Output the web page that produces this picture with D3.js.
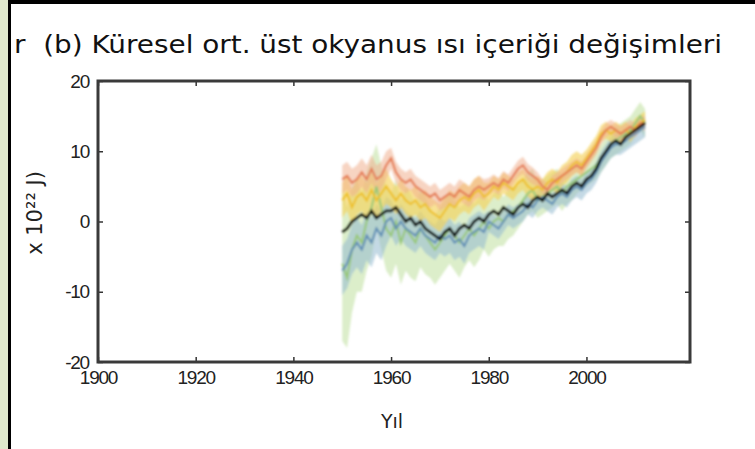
<!DOCTYPE html>
<html>
<head>
<meta charset="utf-8">
<script src="https://d3js.org/d3.v7.min.js"></script>
<style>
body { margin: 0; background: #fff; }
svg { display: block; font-family: 'DejaVu Sans', Verdana, sans-serif; }
.tick text { fill: #222; }
</style>
</head>
<body>
<div class="chart"></div>
<script>
// years 1950..2012, one value per year
const years = d3.range(1950, 2013);

// central (black) estimate
const blackMean = [-1.5,-1,0,0.5,1,0.5,1.5,0.5,1,1.5, 1.5,2,1,0,0.5,-0.5,0,-1,-1.5,-2,
  -2.5,-1.5,-1,-2,-1,-0.5,-1,0,0.5,0, 1,1.5,1,2,1.5,1,2,2.5,2,3,
  3.5,3,4,3.5,4,4.5,4,5,5.5,5, 6,6.5,7.5,9,10,11,11.5,11,12,12.5, 13,13.5,14];

const redMean = [6,6.5,5.5,6,7,6,7.5,6,6.5,8, 9,7,6,5.5,6,5,4.5,4,3.5,4,
  3,3.5,4,3.5,4.5,4,3.5,4.5,5,4.5, 5,5.5,5,6,5.5,6.5,7.5,8,7,6.5,
  6,5,4.5,5.5,6,6.5,7,7.5,8,7.5, 8.5,9.5,10.5,12,13,13.5,13,12.5,13,13.5, 13,14,14];
const redSpread = [2,2,2,2,2,2,2,2,2,2, 1.5,1.5,1.5,1.5,1.5,1.5,1.5,1.5,1.5,1.5,
  1.5,1.5,1.5,1.5,1.5,1.5,1.5,1.5,1.5,1.5, 1.2,1.2,1.2,1.2,1.2,1.2,1.2,1.2,1.2,1.2,
  1,1,1,1,1,1,1,1,1,1, 1,1,1,1,1,1,1,1,1,1, 1,1,1];

const yellowMean = [3,4,2,3.5,4,3,4.5,3,4,5, 4,3,4,3,2.5,3,2,2.5,1.5,1,
  0.5,1.5,2.5,2,3,3.5,3,4,4.5,3.5, 4,5,4.5,5.5,5,4.5,5.5,6,5,4.5,
  5,4.5,5.5,6,5.5,6.5,7,8,8.5,8, 9,10,11,12.5,13,12.5,13,12.5,13,12.5, 13.5,14,14.5];
const yellowSpread = [2.5,2.5,2.5,2.5,2.5,2.5,2.5,2.5,2.5,2.5, 2,2,2,2,2,2,2,2,2,2,
  2,2,2,2,2,2,2,2,2,2, 1.5,1.5,1.5,1.5,1.5,1.5,1.5,1.5,1.5,1.5,
  1.5,1.5,1.5,1.5,1.5,1.5,1.5,1.5,1.5,1.5, 1.2,1.2,1.2,1.2,1.2,1.2,1.2,1.2,1.2,1.2, 1.2,1.2,1.2];

const greenMean = [-6,-8,-4,-2,-3,0,2,5,2,-1, -2,0,-3,-1,-2,-3,-1,-2,-3,-4,
  -3,-2,-1,-2,-3,-2,-1,-2,-1,0, -1,0,0.5,0,1,1.5,2,3,4,4.5,
  3,3.5,4,4.5,5,4,5,5.5,6,6.5, 7,7.5,8,9,10,11,11.5,12,12.5,13, 14,15,14];
const greenSpread = [11,10,9,8,7,7,7,6,6,6, 6,6,6,6,6,5.5,5.5,5.5,5,5,
  5,5,5,5,5,4.5,4.5,4.5,4.5,4, 4,4,4,3.5,3.5,3.5,3,3,3,3,
  2.5,2.5,2.5,2.5,2.5,2.5,2.5,2.5,2,2, 2,2,2,2,2,2,2,2,2,2, 2,2,2];

const blueMean = [-7,-6,-4,-3,-4,-2,-3,-1,-2,0, 0.5,-1,0,-1,-1.5,-2,-1,-2,-2.5,-3,
  -2,-2.5,-2,-3,-2.5,-3.5,-2,-1.5,-1,-1.5, 0,-0.5,-1,0,1,0.5,1,1.5,2.5,2,
  3,3.5,3,2.5,3.5,4,3.5,4.5,5,4.5, 5.5,6,7,8.5,9.5,10.5,11,11,11.5,12, 12.5,13,13.5];
const blueSpread = [3.5,3.5,3.5,3.5,3.5,3.5,3.5,3.5,3.5,3.5, 2.5,2.5,2.5,2.5,2.5,2.5,2.5,2.5,2.5,2.5,
  2.5,2.5,2.5,2.5,2.5,2.5,2.5,2.5,2.5,2.5, 1.5,1.5,1.5,1.5,1.5,1.5,1.5,1.5,1.5,1.5,
  1.5,1.5,1.5,1.5,1.5,1.5,1.5,1.5,1.5,1.5, 1.5,1.5,1.5,1.5,1.5,1.5,1.5,1.5,1.5,1.5, 1.5,1.5,1.5];

const xTicks = [1900, 1920, 1940, 1960, 1980, 2000];
const yTicks = [-20, -10, 0, 10, 20];

const width = 755, height = 449;
const mLeft = 98, mRight = 690, mTop = 81, mBottom = 362;

const svg = d3.select(".chart").append("svg")
    .attr("width", width)
    .attr("height", height);

// soft blur so the marks look like the scanned figure
svg.append("defs").append("filter")
    .attr("id", "soft")
    .append("feGaussianBlur")
    .attr("stdDeviation", 0.9);

// page frame bits from the screenshot
svg.append("rect").attr("x", 0).attr("y", 0).attr("width", 8).attr("height", height).style("fill", "#dfe8cc");
svg.append("rect").attr("x", 8).attr("y", 0).attr("width", 3).attr("height", height).style("fill", "#000");
svg.append("rect").attr("x", 8).attr("y", 0).attr("width", width - 8).attr("height", 4).style("fill", "#000");

const x = d3.scaleLinear().domain([1900, 2021.2]).range([mLeft, mRight]);
const y = d3.scaleLinear().domain([-20, 20]).range([mBottom, mTop]);

const series = [
    {mean: greenMean,  spread: greenSpread,  line: "#98c878", band: "#c4e2a6", op: 0.6},
    {mean: blueMean,   spread: blueSpread,   line: "#5f8db4", band: "#94b9d0", op: 0.55},
    {mean: yellowMean, spread: yellowSpread, line: "#eec02a", band: "#f4d35a", op: 0.65},
    {mean: redMean,    spread: redSpread,    line: "#e47a54", band: "#f0b090", op: 0.55}
];

const area = d3.area()
    .x((d, i) => x(years[i]))
    .y0(d => y(d[0] - d[1]))
    .y1(d => y(d[0] + d[1]));

const line = d3.line()
    .x((d, i) => x(years[i]))
    .y(d => y(d));

const plot = svg.append("g").attr("filter", "url(#soft)");

series.forEach(s => {
    plot.append("path")
        .datum(s.mean.map((m, i) => [m, s.spread[i]]))
        .attr("d", area)
        .style("fill", s.band)
        .style("opacity", s.op);
});

series.forEach(s => {
    plot.append("path")
        .datum(s.mean)
        .attr("d", line)
        .style("fill", "none")
        .style("stroke", s.line)
        .style("stroke-width", 2);
});

plot.append("path")
    .datum(blackMean)
    .attr("d", line)
    .style("fill", "none")
    .style("stroke", "#000")
    .style("stroke-width", 2.8);

// axes, ticks pointing in, mirrored on top and right
const axisStyle = g => {
    g.select(".domain").remove();
    g.selectAll(".tick line").style("stroke", "#333").style("stroke-width", 1.5);
    g.selectAll(".tick text").style("font-size", "19px").style("letter-spacing", "-1.2px");
};

svg.append("g")
    .attr("transform", `translate(0,${mBottom})`)
    .call(d3.axisBottom(x).tickValues(xTicks).tickFormat(d3.format("d")).tickSizeInner(-5).tickPadding(9))
    .call(axisStyle);

svg.append("g")
    .attr("transform", `translate(0,${mTop})`)
    .call(d3.axisTop(x).tickValues(xTicks).tickFormat("").tickSizeInner(-5))
    .call(axisStyle);

svg.append("g")
    .attr("transform", `translate(${mLeft},0)`)
    .call(d3.axisLeft(y).tickValues(yTicks).tickFormat(d => String(d)).tickSizeInner(-5).tickPadding(9))
    .call(axisStyle);

svg.append("g")
    .attr("transform", `translate(${mRight},0)`)
    .call(d3.axisRight(y).tickValues(yTicks).tickFormat("").tickSizeInner(-5))
    .call(axisStyle);

// box
svg.append("rect")
    .attr("x", mLeft).attr("y", mTop)
    .attr("width", mRight - mLeft).attr("height", mBottom - mTop)
    .style("fill", "none")
    .style("stroke", "#3a3a3a")
    .style("stroke-width", 3);

// texts
svg.append("text")
    .attr("x", 14)
    .attr("y", 53)
    .attr("textLength", 708)
    .attr("lengthAdjust", "spacingAndGlyphs")
    .style("white-space", "pre")
    .style("font-size", "24px")
    .style("fill", "#111")
    .text("r  (b) Küresel ort. üst okyanus ısı içeriği değişimleri");

svg.append("text")
    .attr("transform", "translate(42,213) rotate(-90)")
    .attr("text-anchor", "middle")
    .style("font-size", "21px")
    .style("fill", "#222")
    .text("x 10²² J)");

svg.append("text")
    .attr("x", 392)
    .attr("y", 428)
    .attr("text-anchor", "middle")
    .style("font-size", "19px")
    .style("fill", "#222")
    .text("Yıl");
</script>
</body>
</html>
